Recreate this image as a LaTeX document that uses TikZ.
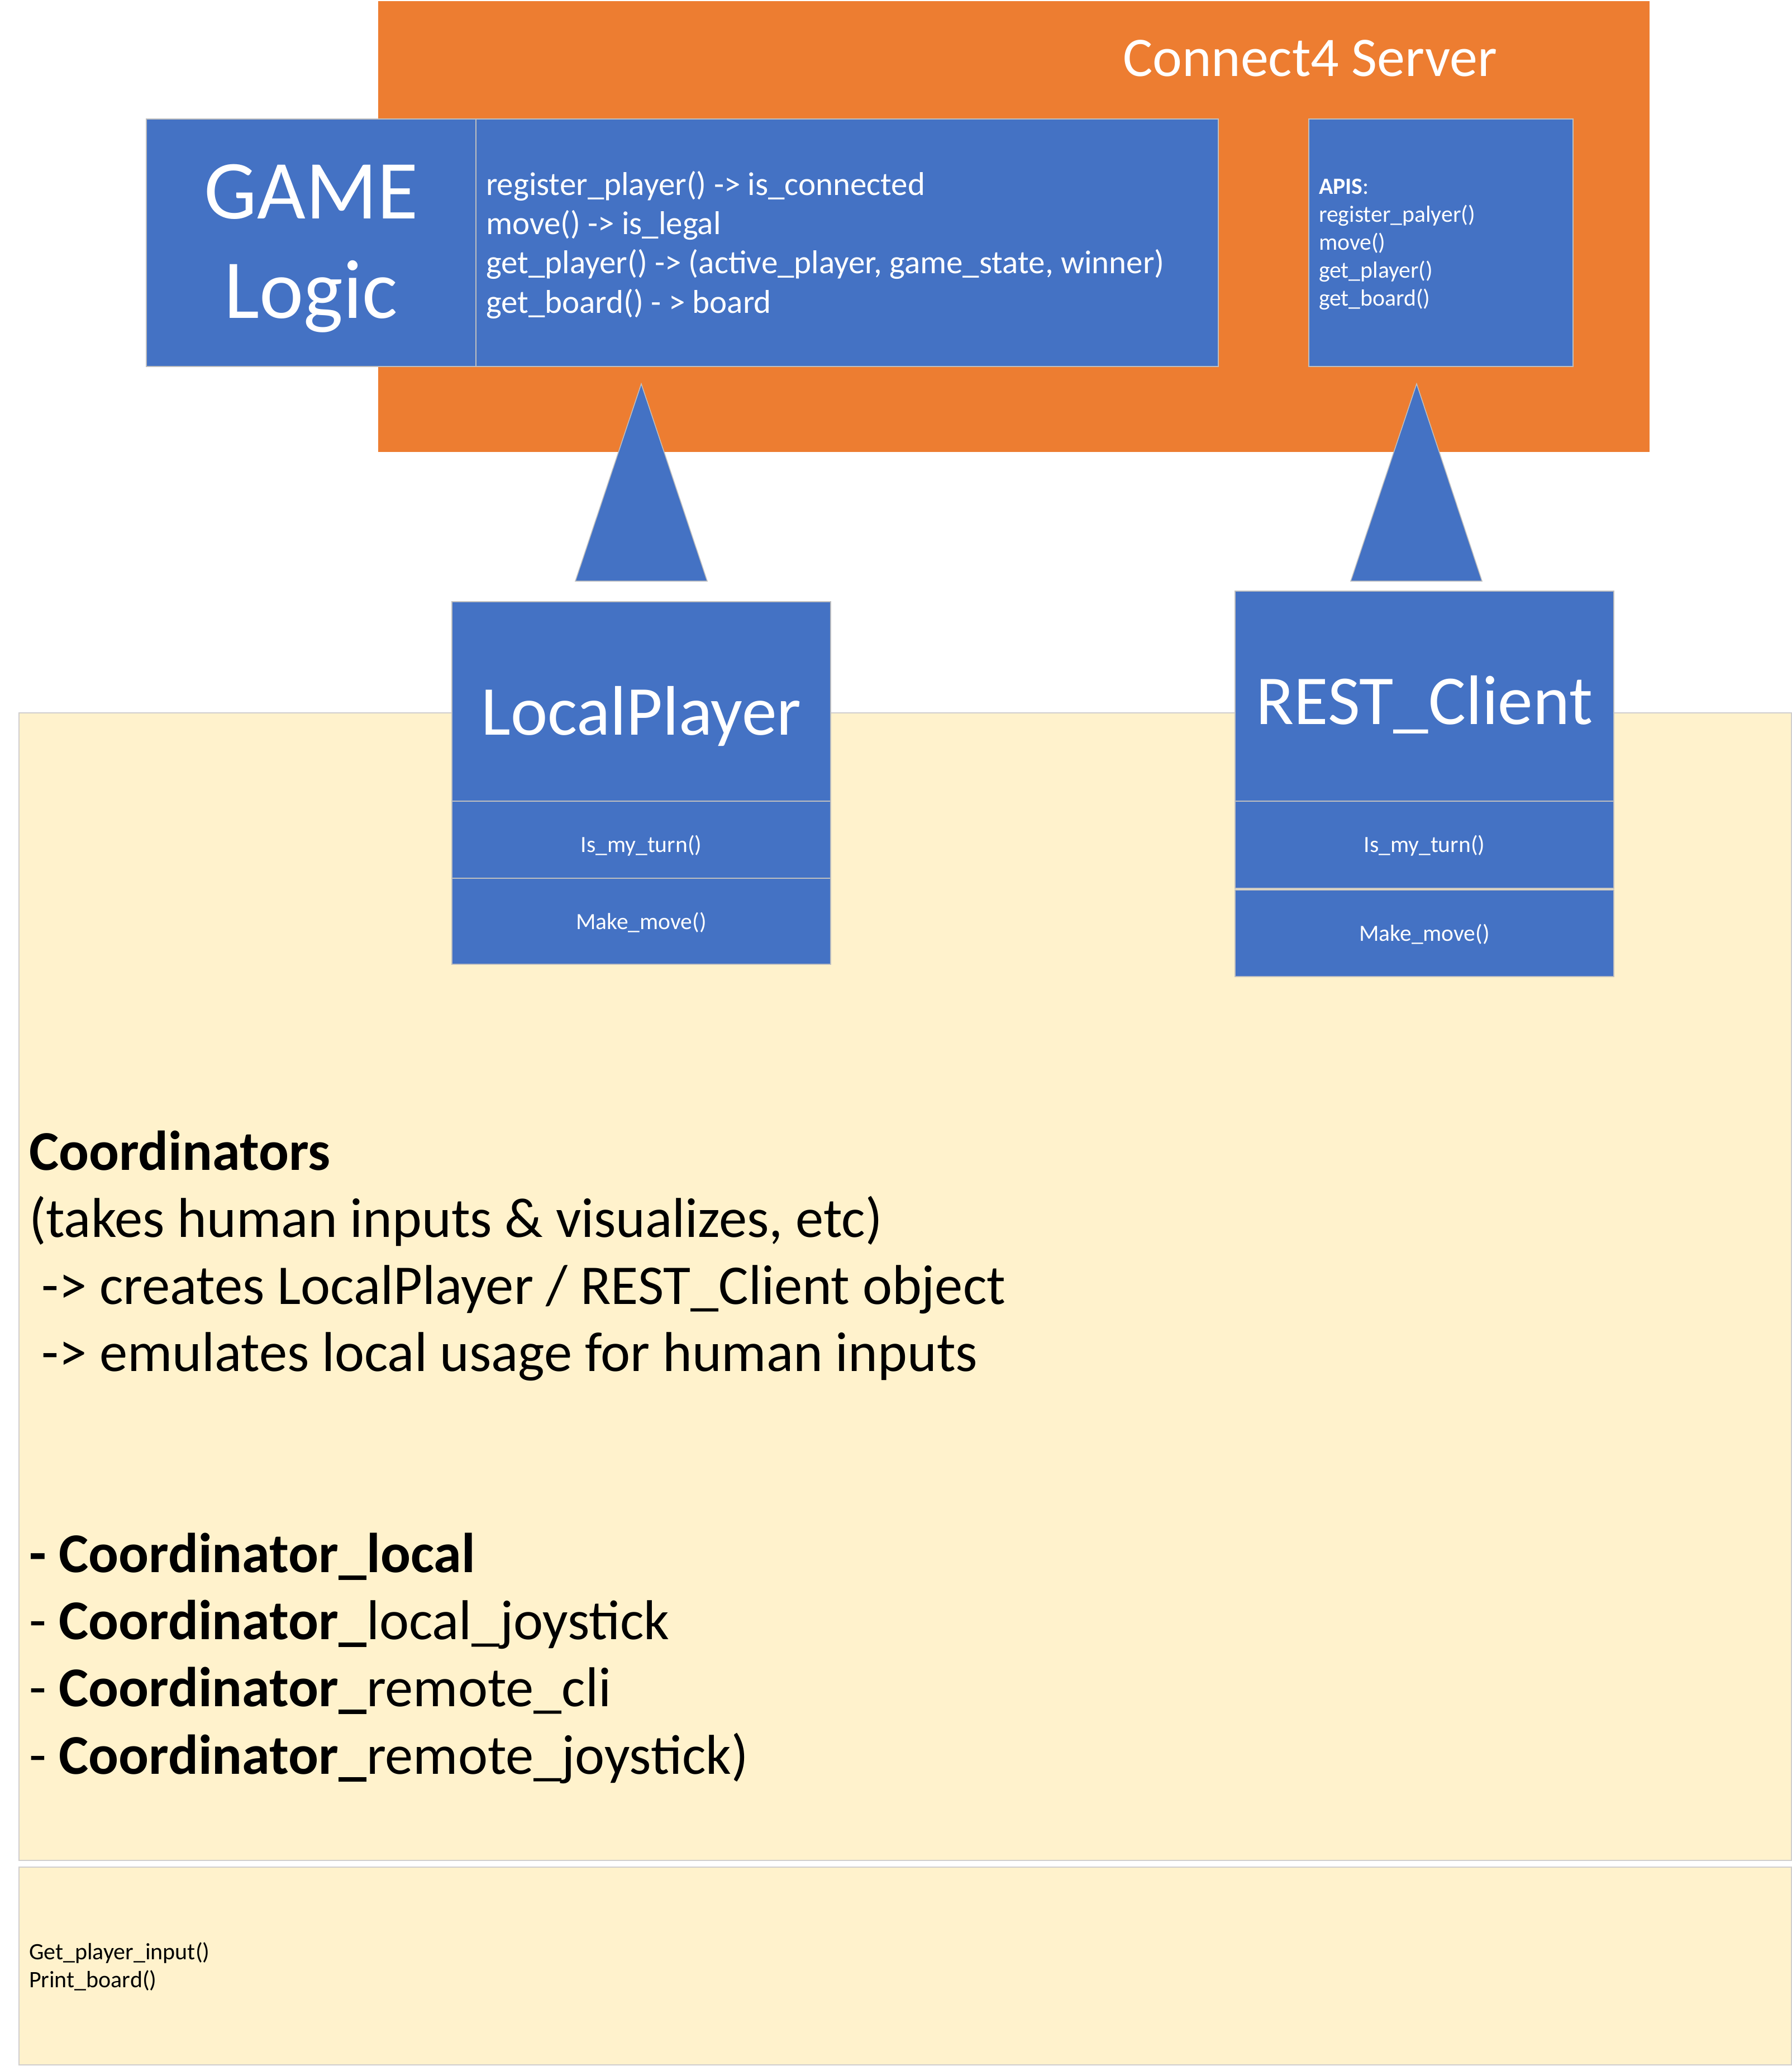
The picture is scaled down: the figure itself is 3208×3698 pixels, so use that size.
\documentclass[tikz,border=0pt]{standalone}
\usepackage{fontspec}
\setmainfont{Carlito}
\definecolor{orangeC}{HTML}{ED7D31}
\definecolor{blueC}{HTML}{4472C4}
\definecolor{yellowC}{HTML}{FFF2CC}
\definecolor{edgeC}{HTML}{BFBFBF}
\definecolor{yedgeC}{HTML}{D0CECE}
\begin{document}
\begin{tikzpicture}[x=1pt,y=-1pt,
  box/.style={rectangle, anchor=north west, inner sep=0pt, outer sep=0pt, line width=1.5pt},
  bluebox/.style={box, fill=blueC, draw=edgeC},
  yellowbox/.style={box, fill=yellowC, draw=yedgeC},
  wtxt/.style={inner sep=0pt, outer sep=0pt, text=white},
  btxt/.style={inner sep=0pt, outer sep=0pt, text=black},
  tri/.style={fill=blueC, draw=edgeC, line width=1.5pt}
]
\useasboundingbox (0,0) rectangle (3208,3698);
\fill[white] (0,0) rectangle (3208,3698);

% server
\node[box, fill=orangeC, minimum width=2276pt, minimum height=807pt] (server) at (677,2) {};
\node[bluebox, minimum width=590pt, minimum height=443pt] (gamel) at (262,213) {};
\node[bluebox, minimum width=1329pt, minimum height=443pt] (gamer) at (852,213) {};
\node[bluebox, minimum width=473pt, minimum height=443pt] (apis) at (2343,213) {};

% triangles
\filldraw[tri] (1148,687) -- (1266,1040) -- (1030,1040) -- cycle;
\filldraw[tri] (2536,687) -- (2653,1040) -- (2418,1040) -- cycle;

% yellow areas
\node[yellowbox, minimum width=3173pt, minimum height=2054pt] (coord) at (34,1276) {};
\node[yellowbox, minimum width=3173pt, minimum height=354pt] (io) at (34,3342) {};

% LocalPlayer
\node[bluebox, minimum width=678pt, minimum height=357pt] (lp) at (809,1077) {};
\node[bluebox, minimum width=678pt, minimum height=138pt] (lpturn) at (809,1434) {};
\node[bluebox, minimum width=678pt, minimum height=154pt] (lpmove) at (809,1572) {};

% REST_Client
\node[bluebox, minimum width=678pt, minimum height=376pt] (rc) at (2211,1058) {};
\node[bluebox, minimum width=678pt, minimum height=156pt] (rcturn) at (2211,1434) {};
\node[bluebox, minimum width=678pt, minimum height=155pt] (rcmove) at (2211,1593) {};

% texts (multi-line nodes: base anchor = baseline of last line)
\node[wtxt, anchor=base west, font=\fontsize{100}{119}\selectfont] (srvtitle) at (2010,137) {Connect4 Server};
\node[wtxt, anchor=base, align=center, font=\fontsize{150}{178}\selectfont] (gametitle) at (557,569) {GAME\\Logic};
\node[wtxt, anchor=base west, align=left, font=\fontsize{59}{70.3}\selectfont] (gametext) at (870,560)
  {register\_player() -> is\_connected\\move() -> is\_legal\\get\_player() -> (active\_player, game\_state, winner)\\get\_board() - > board};
\node[wtxt, anchor=base west, align=left, font=\fontsize{41.7}{50}\selectfont] (apistext) at (2361,547)
  {\textbf{APIS}:\\register\_palyer()\\move()\\get\_player()\\get\_board()};

\node[wtxt, anchor=base, font=\fontsize{125.5}{150}\selectfont] (lptitle) at (1148,1315) {LocalPlayer};
\node[wtxt, anchor=base, font=\fontsize{41.5}{50}\selectfont] (lpturntxt) at (1148,1525) {Is\_my\_turn()};
\node[wtxt, anchor=base, font=\fontsize{41.5}{50}\selectfont] (lpmovetxt) at (1148,1663) {Make\_move()};

\node[wtxt, anchor=base, font=\fontsize{125.5}{150}\selectfont] (rctitle) at (2550,1296) {REST\_Client};
\node[wtxt, anchor=base, font=\fontsize{41.5}{50}\selectfont] (rcturntxt) at (2550,1525) {Is\_my\_turn()};
\node[wtxt, anchor=base, font=\fontsize{41.5}{50}\selectfont] (rcmovetxt) at (2550,1684) {Make\_move()};

\node[btxt, anchor=base west, align=left, font=\fontsize{100.5}{120.1}\selectfont] (coordtext) at (52,3175)
  {\textbf{Coordinators}\\(takes human inputs \& visualizes, etc)\\\hspace*{0.226em}-> creates LocalPlayer / REST\_Client object\\\hspace*{0.226em}-> emulates local usage for human inputs\\\mbox{}\\\mbox{}\\\textbf{- Coordinator\_local}\\- \textbf{Coordinator\_}local\_joystick\\- \textbf{Coordinator\_}remote\_cli\\- \textbf{Coordinator\_}remote\_joystick)};

\node[btxt, anchor=base west, align=left, font=\fontsize{42}{50}\selectfont] (iotext) at (52,3557)
  {Get\_player\_input()\\Print\_board()};
\end{tikzpicture}
\end{document}
